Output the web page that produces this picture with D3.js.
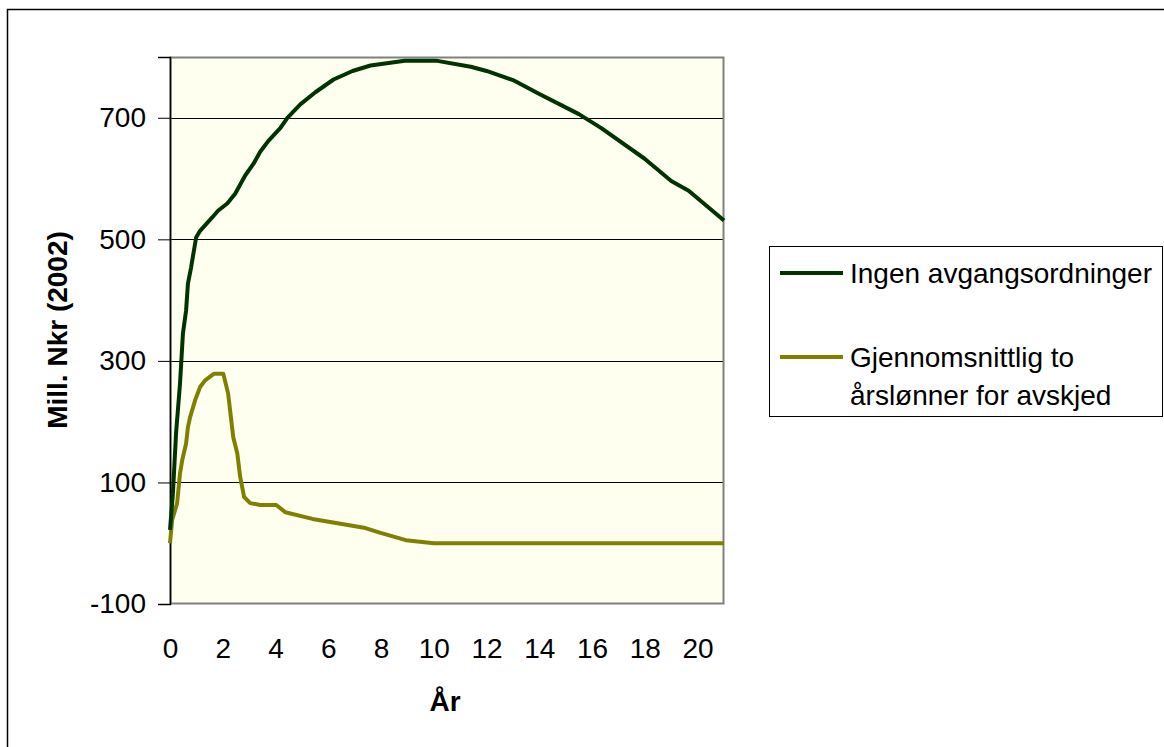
<!DOCTYPE html>
<html><head><meta charset="utf-8">
<script src="https://cdn.jsdelivr.net/npm/d3@7"></script>
<style>body{margin:0;background:#fff}svg{display:block}text{font-family:"Liberation Sans",Arial,sans-serif}</style>
</head><body>
<script>
const yearsA = [0,0.11,0.23,0.38,0.49,0.61,0.68,0.8,0.99,1.14,1.6,1.82,2.17,2.47,2.85,3.16,3.42,3.73,4.18,4.45,4.94,5.51,6.2,6.92,7.6,8.9,10.08,11.4,12,13,14,15.5,16.35,17.98,19.0,19.66,21.0];
const valuesA = [22,82,181,263,345,383,427,454,503,514,536,547,559,575,605,624,644,662,683,700,722,742,763,777,786,794,794,784,777,762,739,706,683,633,596,580,531];
const yearsB = [0,0.08,0.27,0.38,0.46,0.61,0.68,0.76,0.95,1.14,1.33,1.67,2.02,2.2,2.4,2.55,2.66,2.81,3.04,3.42,4.03,4.37,5.4,7.41,7.98,8.94,10.0,12,14,16,18,20,21];
const valuesB = [0,38,66,115,136,164,191,207,235,257,268,279,279,247,174,148,109,76,66,63,63,51,40,25,17,5,0,0,0,0,0,0,0];
const seriesNames = ["Ingen avgangsordninger", ["Gjennomsnittlig to", "årslønner for avskjed"]];
const seriesColors = ["#003300", "#808000"];
const xTicks = [0,2,4,6,8,10,12,14,16,18,20];
const yTicks = [-100,100,300,500,700];
const xTitle = "År";
const yTitle = "Mill. Nkr (2002)";

const W = 1164, H = 747;
const FONT = "'Liberation Sans', Arial, sans-serif";
const svg = d3.select("body").append("svg").attr("width", W).attr("height", H);
svg.append("rect").attr("x", 7.5).attr("y", 9.5).attr("width", 1170).attr("height", 760)
  .attr("fill", "#fff").attr("stroke", "#000").attr("stroke-width", 1.5);

const L = 170, R = 724, T = 57, B = 604;
const x = d3.scaleLinear().domain([0, 21]).range([L, R]);
const y = d3.scaleLinear().domain([-100, 800]).range([B, T]);

svg.append("rect").attr("x", L).attr("y", T).attr("width", R - L).attr("height", B - T)
  .attr("fill", "#FFFFF0");

// gridlines
svg.append("g").selectAll("line").data(yTicks.filter(d => d > -100)).join("line")
  .attr("x1", L).attr("x2", R).attr("y1", d => Math.round(y(d)) + 0.5).attr("y2", d => Math.round(y(d)) + 0.5)
  .attr("stroke", "#000").attr("stroke-width", 1);

svg.append("rect").attr("x", L + 0.5).attr("y", T + 0.5).attr("width", R - L - 1).attr("height", B - T - 1)
  .attr("fill", "none").attr("stroke", "#808080").attr("stroke-width", 2);

// y axis
const yAxis = d3.axisLeft(y).tickValues(yTicks).tickSize(12).tickPadding(12).tickFormat(d => String(d));
const gy = svg.append("g").attr("transform", `translate(${L},0)`).call(yAxis);
gy.select(".domain").attr("stroke", "#000").attr("stroke-width", 1.5);
gy.selectAll(".tick line").attr("stroke", "#000");
gy.selectAll("text").attr("font-size", 28).attr("fill", "#000").style("font-family", FONT);

// x axis
const xAxis = d3.axisBottom(x).tickValues(xTicks).tickSize(0).tickPadding(34).tickFormat(d => String(d));
const gx = svg.append("g").attr("transform", `translate(0,${B})`).call(xAxis);
gx.select(".domain").remove();
gx.selectAll("text").attr("font-size", 28).attr("fill", "#000").style("font-family", FONT);

// lines
const line = d3.line().x(d => x(d[0])).y(d => y(d[1]));
const dataA = yearsA.map((d, i) => [d, valuesA[i]]);
const dataB = yearsB.map((d, i) => [d, valuesB[i]]);
svg.append("path").datum(dataB).attr("d", line).attr("fill", "none")
  .attr("stroke", seriesColors[1]).attr("stroke-width", 4).attr("stroke-linejoin", "round");
svg.append("path").datum(dataA).attr("d", line).attr("fill", "none")
  .attr("stroke", seriesColors[0]).attr("stroke-width", 4).attr("stroke-linejoin", "round");

// titles
svg.append("text").attr("x", 445).attr("y", 711).attr("text-anchor", "middle")
  .attr("font-size", 28).attr("font-weight", "bold").text(xTitle);
svg.append("text").attr("transform", "translate(67,330) rotate(-90)").attr("text-anchor", "middle")
  .attr("font-size", 28).attr("font-weight", "bold").text(yTitle);

// legend
const lg = svg.append("g");
lg.append("rect").attr("x", 769.5).attr("y", 246.5).attr("width", 393).attr("height", 170)
  .attr("fill", "#fff").attr("stroke", "#000").attr("stroke-width", 1);
const ly = [273, 357];
seriesNames.forEach((n, i) => {
  lg.append("line").attr("x1", 780).attr("x2", 843).attr("y1", ly[i]).attr("y2", ly[i])
    .attr("stroke", seriesColors[i]).attr("stroke-width", 4);
  const lines = Array.isArray(n) ? n : [n];
  lines.forEach((t, j) => {
    lg.append("text").attr("x", 850).attr("y", ly[i] + 10 + j * 38).attr("font-size", 28).text(t);
  });
});
</script>
</body></html>
